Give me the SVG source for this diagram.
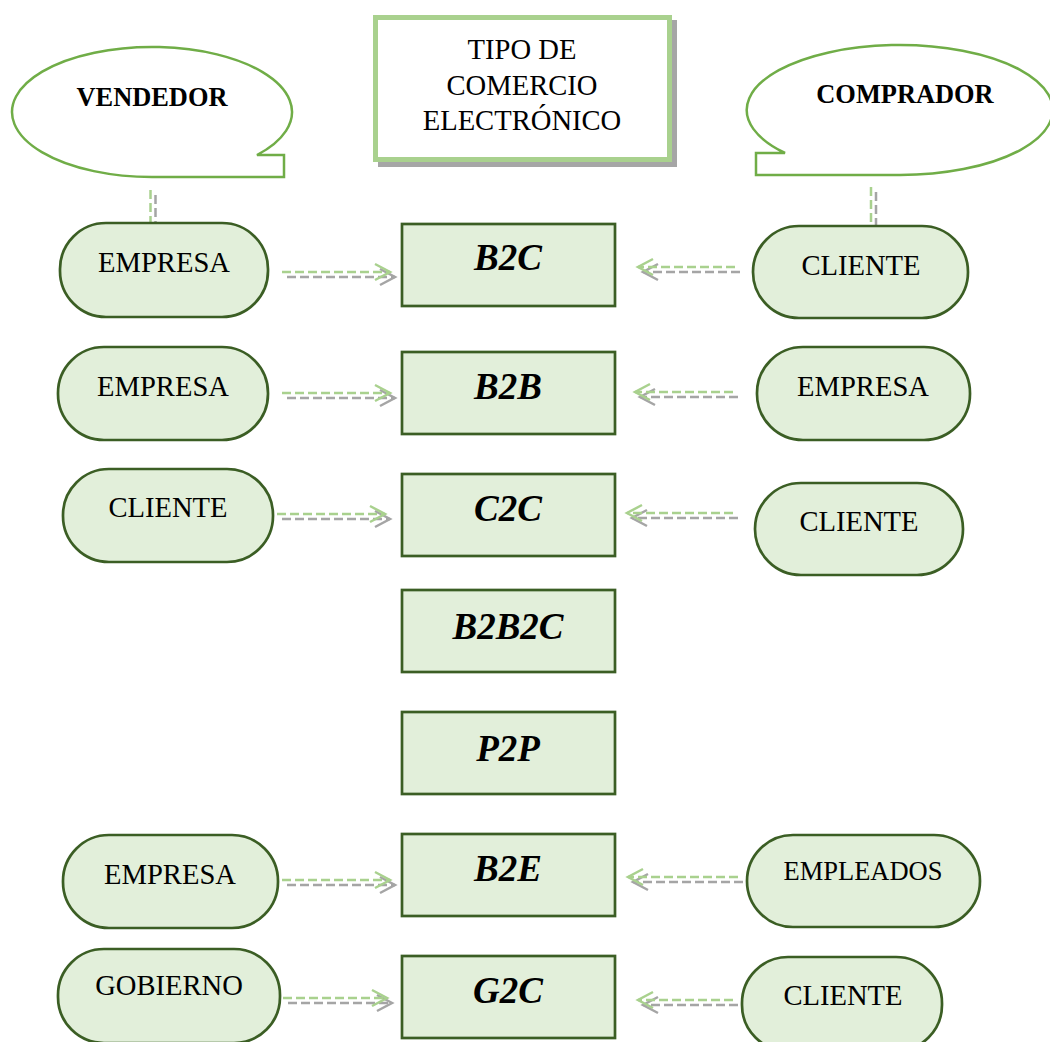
<svg xmlns="http://www.w3.org/2000/svg" width="1050" height="1042" viewBox="0 0 1050 1042">
<style>
.node{fill:#e2efda;stroke:#3b5e24;stroke-width:2.7}
.box{fill:#e2efda;stroke:#3b5e24;stroke-width:2.7}
.callout{fill:#fff;stroke:#70ad47;stroke-width:2.5}
.t{font-family:"Liberation Serif","Times New Roman",serif;font-size:28.6px;fill:#000;text-anchor:middle}
.tb{font-family:"Liberation Serif","Times New Roman",serif;font-size:26.4px;font-weight:bold;fill:#000;text-anchor:middle}
.bt{font-family:"Liberation Serif","Times New Roman",serif;font-size:37px;font-weight:bold;font-style:italic;fill:#000;text-anchor:middle}
.g{fill:none;stroke:#a9d18e;stroke-width:2.5;stroke-dasharray:9 4}
.s{fill:none;stroke:#a5a5a5;stroke-width:2.5;stroke-dasharray:9 4}
.ga{marker-end:url(#mg)}
.sa{marker-end:url(#ms)}
</style>
<defs>
<marker id="mg" markerUnits="userSpaceOnUse" markerWidth="20" markerHeight="20" viewBox="-17 -10 20 20" refX="0" refY="0" orient="auto" overflow="visible">
<path d="M-15,-8 L0,0 L-15,8" fill="none" stroke="#a9d18e" stroke-width="2.5" stroke-dasharray="none"/>
</marker>
<marker id="ms" markerUnits="userSpaceOnUse" markerWidth="20" markerHeight="20" viewBox="-17 -10 20 20" refX="0" refY="0" orient="auto" overflow="visible">
<path d="M-15,-8 L0,0 L-15,8" fill="none" stroke="#a5a5a5" stroke-width="2.5" stroke-dasharray="none"/>
</marker>
</defs>

<g id="title">
<rect x="380.5" y="22.5" width="294" height="142" fill="none" stroke="#a6a6a6" stroke-width="5"/>
<rect x="375.5" y="17.5" width="294" height="142" fill="#fff" stroke="#a9d18e" stroke-width="5"/>
<text class="t" x="522" y="59">TIPO DE</text>
<text class="t" x="522" y="95">COMERCIO</text>
<text class="t" x="522" y="130">ELECTRÓNICO</text>
</g>

<g id="vendedor">
<path class="callout" d="M284,177 L284,155 L257,155 A140 65 0 1 0 152,177 Z"/>
<text class="tb" x="152" y="106">VENDEDOR</text>
</g>

<g id="comprador">
<path class="callout" d="M756,175 L756,153 L785,153 A153 65 0 1 1 900,175 Z"/>
<text class="tb" x="905" y="103">COMPRADOR</text>
</g>

<g id="connectors">
<line class="s" x1="155.5" y1="195" x2="155.5" y2="223"/>
<line class="g" x1="150.5" y1="190" x2="150.5" y2="222"/>
<line class="s" x1="876" y1="192" x2="876" y2="226"/>
<line class="g" x1="871" y1="187" x2="871" y2="226"/>

<line class="s sa" x1="287" y1="277" x2="395" y2="277"/>
<line class="g ga" x1="282" y1="272" x2="390" y2="272"/>
<line class="s sa" x1="740" y1="272" x2="643" y2="272"/>
<line class="g ga" x1="735" y1="267" x2="638" y2="267"/>

<line class="s sa" x1="287" y1="398" x2="395" y2="398"/>
<line class="g ga" x1="282" y1="393" x2="390" y2="393"/>
<line class="s sa" x1="738" y1="397" x2="640" y2="397"/>
<line class="g ga" x1="733" y1="392" x2="635" y2="392"/>

<line class="s sa" x1="282" y1="519" x2="390" y2="519"/>
<line class="g ga" x1="277" y1="514" x2="385" y2="514"/>
<line class="s sa" x1="738" y1="518" x2="632" y2="518"/>
<line class="g ga" x1="733" y1="513" x2="627" y2="513"/>

<line class="s sa" x1="287" y1="885" x2="395" y2="885"/>
<line class="g ga" x1="282" y1="880" x2="390" y2="880"/>
<line class="s sa" x1="743" y1="882" x2="633" y2="882"/>
<line class="g ga" x1="738" y1="877" x2="628" y2="877"/>

<line class="s sa" x1="288" y1="1003" x2="392" y2="1003"/>
<line class="g ga" x1="283" y1="998" x2="387" y2="998"/>
<line class="s sa" x1="738" y1="1005" x2="643" y2="1005"/>
<line class="g ga" x1="733" y1="1000" x2="638" y2="1000"/>
</g>

<g id="l1"><rect class="node" x="60" y="223" width="208" height="94" rx="46" ry="46"/><text class="t" x="164" y="272">EMPRESA</text></g>
<g id="b2c"><rect class="box" x="402" y="224" width="213" height="82"/><text class="bt" x="508" y="270">B2C</text></g>
<g id="r1"><rect class="node" x="753" y="226" width="215" height="92" rx="46" ry="46"/><text class="t" x="861" y="275">CLIENTE</text></g>

<g id="l2"><rect class="node" x="58" y="347" width="210" height="93" rx="46" ry="46"/><text class="t" x="163" y="396">EMPRESA</text></g>
<g id="b2b"><rect class="box" x="402" y="352" width="213" height="82"/><text class="bt" x="508" y="399">B2B</text></g>
<g id="r2"><rect class="node" x="757" y="347" width="213" height="93" rx="46" ry="46"/><text class="t" x="863" y="396">EMPRESA</text></g>

<g id="l3"><rect class="node" x="63" y="469" width="210" height="93" rx="46" ry="46"/><text class="t" x="168" y="517">CLIENTE</text></g>
<g id="c2c"><rect class="box" x="402" y="474" width="213" height="82"/><text class="bt" x="508" y="521">C2C</text></g>
<g id="r3"><rect class="node" x="755" y="483" width="208" height="92" rx="46" ry="46"/><text class="t" x="859" y="531">CLIENTE</text></g>

<g id="b2b2c"><rect class="box" x="402" y="590" width="213" height="82"/><text class="bt" x="508" y="639">B2B2C</text></g>

<g id="p2p"><rect class="box" x="402" y="712" width="213" height="82"/><text class="bt" x="508" y="761">P2P</text></g>

<g id="l6"><rect class="node" x="63" y="835" width="215" height="93" rx="46" ry="46"/><text class="t" x="170" y="884">EMPRESA</text></g>
<g id="b2e"><rect class="box" x="402" y="834" width="213" height="82"/><text class="bt" x="508" y="881">B2E</text></g>
<g id="r6"><rect class="node" x="747" y="835" width="233" height="92" rx="46" ry="46"/><text class="t" x="863" y="880" style="font-size:26.5px">EMPLEADOS</text></g>

<g id="l7"><rect class="node" x="58" y="949" width="222" height="94" rx="46" ry="46"/><text class="t" x="169" y="995">GOBIERNO</text></g>
<g id="g2c"><rect class="box" x="402" y="956" width="213" height="82"/><text class="bt" x="508" y="1003">G2C</text></g>
<g id="r7"><rect class="node" x="742" y="957" width="200" height="94" rx="46" ry="46"/><text class="t" x="843" y="1005">CLIENTE</text></g>
</svg>
